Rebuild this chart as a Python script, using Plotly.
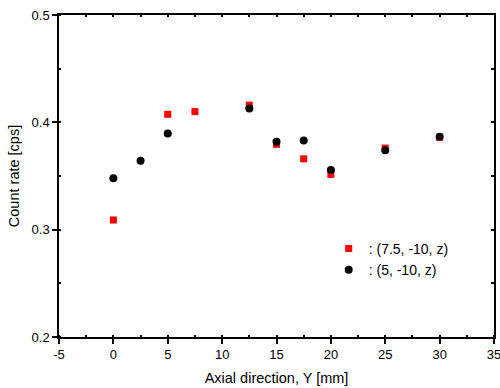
import plotly.graph_objects as go

x_red = [0, 5, 7.5, 12.5, 15, 17.5, 20, 25, 30]
y_red = [0.309, 0.4075, 0.410, 0.416, 0.3795, 0.366, 0.3515, 0.376, 0.386]
x_blk = [0, 2.5, 5, 12.5, 15, 17.5, 20, 25, 30]
y_blk = [0.348, 0.3643, 0.3897, 0.413, 0.382, 0.383, 0.3556, 0.374, 0.3865]

x_ticks = [-5, 0, 5, 10, 15, 20, 25, 30, 35]
x_tick_text = ["-5", "0", "5", "10", "15", "20", "25", "30", "35"]
y_ticks = [0.2, 0.3, 0.4, 0.5]
y_tick_text = ["0.2", "0.3", "0.4", "0.5"]

font = "Liberation Sans, Arial, sans-serif"

fig = go.Figure()
fig.add_trace(go.Scatter(x=x_red, y=y_red, mode="markers", name=": (7.5, -10, z)",
                         marker=dict(symbol="square", size=7, color="#ff0000")))
fig.add_trace(go.Scatter(x=x_blk, y=y_blk, mode="markers", name=": (5, -10, z)",
                         marker=dict(symbol="circle", size=8, color="#000000")))
# invisible helper trace so the mirrored top/right axes are drawn
fig.add_trace(go.Scatter(x=x_blk, y=y_blk, xaxis="x2", yaxis="y2", mode="markers",
                         marker=dict(opacity=0), showlegend=False, hoverinfo="skip"))

fig.update_layout(
    width=500, height=388,
    margin=dict(l=59, r=6, t=15, b=51, autoexpand=False),
    paper_bgcolor="white", plot_bgcolor="white",
    font=dict(family=font, size=14, color="black"),
    showlegend=True,
    legend=dict(x=0.62, y=0.323, xanchor="left", yanchor="top",
                bgcolor="rgba(0,0,0,0)", font=dict(size=14),
                itemwidth=30, tracegroupgap=0),
    xaxis=dict(range=[-5, 35], tickvals=x_ticks, ticktext=x_tick_text, ticks="outside", ticklen=5,
               tickwidth=1.5, tickcolor="black", showline=True, linewidth=1.5,
               linecolor="black", mirror=True, showgrid=False, zeroline=False,
               tickfont=dict(size=13), automargin=False, ticklabeloverflow="allow",
               minor=dict(dtick=2.5, ticks="inside", ticklen=2, tickcolor="black", tickwidth=1.5),
               title=dict(text="Axial direction, Y [mm]", font=dict(size=14.5), standoff=12)),
    yaxis=dict(range=[0.2, 0.5], tickvals=y_ticks, ticktext=y_tick_text, ticks="outside",
               ticklen=5, tickwidth=1.5, tickcolor="black", showline=True, linewidth=1.5,
               linecolor="black", mirror=True, showgrid=False, zeroline=False,
               tickfont=dict(size=13), automargin=False, ticklabeloverflow="allow",
               minor=dict(dtick=0.05, ticks="inside", ticklen=2, tickcolor="black", tickwidth=1.5),
               title=dict(text="Count rate [cps]", font=dict(size=14.5), standoff=8)),
    xaxis2=dict(range=[-5, 35], overlaying="x", side="top", dtick=2.5, tick0=-5,
                ticks="inside", ticklen=2, tickwidth=1.5, tickcolor="black",
                showticklabels=False, showgrid=False, zeroline=False, automargin=False),
    yaxis2=dict(range=[0.2, 0.5], overlaying="y", side="right", dtick=0.05, tick0=0.2,
                ticks="inside", ticklen=3, tickwidth=1.5, tickcolor="black",
                showticklabels=False, showgrid=False, zeroline=False, automargin=False),
)

fig.write_html("out.html", config={"displayModeBar": False},
               post_script="document.body.style.margin='0';document.body.style.overflow='hidden';")
